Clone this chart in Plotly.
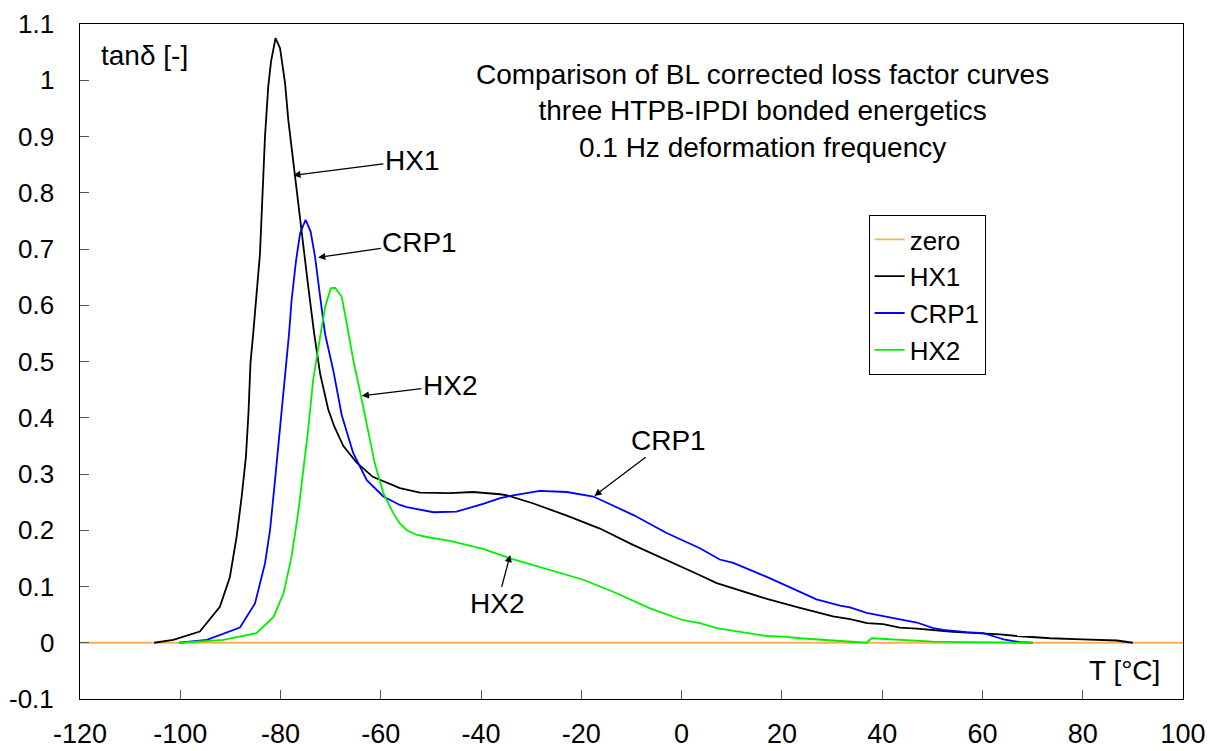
import plotly.graph_objects as go

# ---------------- data ----------------
zero_T = [-120, 100]
zero_v = [0, 0]

hx1_T = [-105.2, -101.4, -96.1, -92.1, -90.1, -88.75, -87.75, -86.9, -86.4, -86.0, -85.4, -84.1,
         -83.1, -82.45, -81.9, -81.0, -80.1, -79.1, -78.45, -77.1, -75.8, -74.5, -73.3, -72.1,
         -70.5, -69.3, -67.5, -64.8, -61.6, -56.2, -52.2, -46.2, -41.6, -39.6, -36.2, -34.8,
         -29.7, -22.9, -16.3, -9.7, -2.9, 3.65, 7.0, 10.2, 17.0, 23.6, 30.2, 33.6, 37.0, 40.2,
         43.5, 46.9, 50.1, 53.5, 56.9, 60.1, 63.5, 66.9, 73.5, 80.0, 86.8, 90.0]
hx1_v = [0, 0.005, 0.02, 0.064, 0.117, 0.189, 0.26, 0.331, 0.408, 0.497, 0.555, 0.692,
         0.9, 0.989, 1.033, 1.075, 1.057, 0.995, 0.929, 0.829, 0.722, 0.635, 0.55, 0.478,
         0.415, 0.385, 0.35, 0.32, 0.295, 0.275, 0.267, 0.266, 0.268, 0.267, 0.264, 0.262,
         0.248, 0.226, 0.203, 0.174, 0.147, 0.12, 0.106, 0.097, 0.078, 0.062, 0.047, 0.042,
         0.035, 0.033, 0.027, 0.025, 0.022, 0.02, 0.018, 0.017, 0.015, 0.012, 0.008, 0.006,
         0.004, 0.0]

crp1_T = [-100.2, -94.7, -88.1, -85.1, -83.1, -82.1, -81.1, -80.1, -79.1, -78.3, -77.8, -76.9,
          -76.1, -75.0, -74.0, -73.1, -72.1, -71.5, -71.1, -69.5, -67.8, -65.5, -62.8, -59.5,
          -56.2, -54.8, -49.5, -44.9, -42.9, -39.6, -36.2, -34.2, -28.3, -22.9, -17.6, -9.6,
          -3.0, 3.65, 7.6, 10.3, 17.0, 23.6, 26.9, 31.6, 33.6, 36.9, 40.9, 46.9, 50.2, 52.2,
          56.8, 60.2, 63.5, 64.2, 67.5, 70.0]
crp1_v = [0, 0.005, 0.027, 0.07, 0.141, 0.2, 0.289, 0.378, 0.467, 0.55, 0.609, 0.68,
          0.728, 0.752, 0.731, 0.685, 0.615, 0.58, 0.548, 0.485, 0.405, 0.337, 0.289, 0.26,
          0.245, 0.241, 0.232, 0.233, 0.238, 0.247, 0.257, 0.261, 0.27, 0.268, 0.26, 0.227,
          0.195, 0.168, 0.148, 0.142, 0.117, 0.091, 0.077, 0.066, 0.063, 0.053, 0.046, 0.036,
          0.026, 0.023, 0.019, 0.017, 0.008, 0.006, 0.001, 0.0]

hx2_T = [-100.2, -91.4, -84.8, -81.4, -79.4, -77.8, -76.5, -75.5, -74.5, -73.5, -72.5, -72.1,
         -71.1, -70.0, -69.1, -67.8, -66.8, -65.5, -64.2, -62.8, -61.2, -59.5, -57.5, -56.2,
         -54.8, -52.9, -50.8, -46.2, -39.6, -34.2, -26.3, -19.6, -13.0, -6.3, 0.3, 3.65, 7.0,
         13.6, 17.0, 20.3, 23.6, 30.2, 36.9, 37.9, 43.5, 50.2, 56.8, 63.5, 70.0]
hx2_v = [0, 0.005, 0.017, 0.046, 0.088, 0.153, 0.23, 0.307, 0.378, 0.467, 0.526, 0.544,
         0.597, 0.63, 0.631, 0.615, 0.568, 0.503, 0.449, 0.39, 0.319, 0.266, 0.23, 0.212,
         0.2, 0.192, 0.188, 0.181, 0.167, 0.15, 0.129, 0.112, 0.088, 0.061, 0.04, 0.035, 0.026,
         0.017, 0.012, 0.011, 0.008, 0.004, 0.0, 0.008, 0.005, 0.002, 0.001, 0.001, 0.0]

# arrow labels: (text, head T, head value, text T, text value)
labels = ["HX1", "CRP1", "HX2", "CRP1", "HX2"]
head_T = [-77.45, -72.5, -63.8, -17.4, -34.2]
head_v = [0.831, 0.685, 0.439, 0.261, 0.156]
text_T = [-53.8, -52.2, -46.2, -2.7, -36.8]
text_v = [0.858, 0.711, 0.458, 0.36, 0.069]

title_lines = ["Comparison of BL corrected loss factor curves",
               "three HTPB-IPDI bonded energetics",
               "0.1 Hz deformation frequency"]

x_ticks = list(range(-120, 101, 20))
y_ticks = [-0.1, 0, 0.1, 0.2, 0.3, 0.4, 0.5, 0.6, 0.7, 0.8, 0.9, 1, 1.1]
y_tick_labels = ["%g" % v for v in y_ticks]

FONT = "Liberation Sans, Arial, sans-serif"
FS = 28
TFS = 27
YFS = 26
LFS = 26

fig = go.Figure()
series = [("zero", zero_T, zero_v, "#FFB04A"),
          ("HX1", hx1_T, hx1_v, "#000000"),
          ("CRP1", crp1_T, crp1_v, "#0000FF"),
          ("HX2", hx2_T, hx2_v, "#00F000")]
for name, xs, ys, col in series:
    fig.add_trace(go.Scatter(x=xs, y=ys, mode="lines", name=name,
                             line=dict(color=col, width=1.8)))

annotations = []
for t, hx, hy, tx, ty in zip(labels, head_T, head_v, text_T, text_v):
    annotations.append(dict(x=hx, y=hy, ax=tx, ay=ty, xref="x", yref="y",
                            axref="x", ayref="y", text=t, showarrow=True,
                            arrowhead=2, arrowsize=1.1, arrowwidth=1.3,
                            arrowcolor="#000", standoff=0,
                            font=dict(size=FS, color="#000", family=FONT)))
# y tick labels placed at the tick values, right-aligned left of the axis
for v, lab in zip(y_ticks, y_tick_labels):
    annotations.append(dict(x=-0.0218, y=v, xref="paper", yref="y", text=lab,
                            showarrow=False, xanchor="right", yanchor="middle",
                            font=dict(size=YFS, color="#000", family=FONT)))
annotations.append(dict(x=0.619, y=0.871, xref="paper", yref="paper",
                        text="<br>".join(title_lines), showarrow=False,
                        xanchor="center", yanchor="middle", align="center",
                        font=dict(size=FS, color="#000", family=FONT)))
annotations.append(dict(x=0.0172, y=0.954, xref="paper", yref="paper",
                        text="tanδ [-]", showarrow=False,
                        xanchor="left", yanchor="middle",
                        font=dict(size=FS, color="#000", family=FONT)))
annotations.append(dict(x=0.981, y=0.0415, xref="paper", yref="paper",
                        text="T [°C]", showarrow=False,
                        xanchor="right", yanchor="middle",
                        font=dict(size=FS, color="#000", family=FONT)))

fig.update_layout(
    width=1210, height=751,
    margin=dict(l=80, r=27, t=24, b=52),
    paper_bgcolor="white", plot_bgcolor="white",
    font=dict(family=FONT, size=FS, color="#000"),
    showlegend=True,
    legend=dict(x=0.715, y=0.717, xanchor="left", yanchor="top",
                bordercolor="#000", borderwidth=1, bgcolor="white",
                font=dict(size=LFS, family=FONT), itemwidth=30,
                tracegroupgap=0, traceorder="normal"),
    annotations=annotations,
)
fig.update_xaxes(range=[-120, 100], tickvals=x_ticks,
                 ticktext=[str(v) for v in x_ticks], ticks="inside", ticklen=9,
                 tickcolor="#555", showgrid=False, zeroline=False, showline=True,
                 linecolor="#000", linewidth=1.3, mirror=True, automargin=False,
                 ticklabelstandoff=10, tickfont=dict(size=TFS, family=FONT))
fig.update_yaxes(range=[-0.1, 1.1], tickvals=y_ticks, showticklabels=False,
                 ticks="inside", ticklen=9,
                 tickcolor="#555", showgrid=False, zeroline=False, showline=True,
                 linecolor="#000", linewidth=1.3, mirror=True, automargin=False)

fig.write_html("out.html")
